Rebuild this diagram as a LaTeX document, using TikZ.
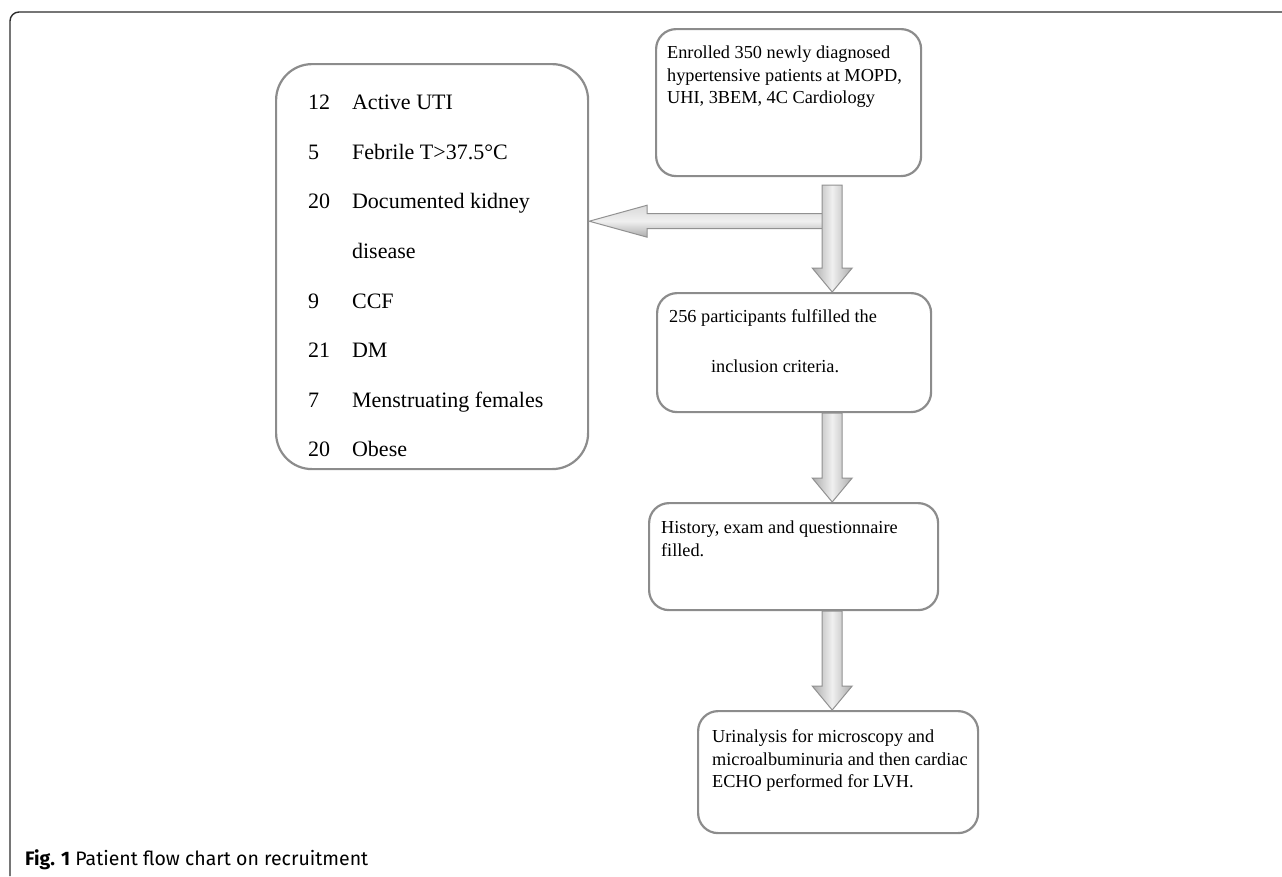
\documentclass[tikz,border=0pt]{standalone}
\usepackage{fontspec}
\setmainfont{Liberation Serif}
\newfontfamily\capfont{Fira Sans}
\usetikzlibrary{calc}

\definecolor{boxgray}{RGB}{140,140,140}
\definecolor{framegray}{RGB}{45,45,45}
\definecolor{arrowedge}{RGB}{145,145,145}

% text block of a box: width, height, top gap, left gap, lines
\newcommand{\boxtext}[5]{\begin{minipage}[t][#2][t]{#1}\raggedright\leftskip=#4\relax
  \vspace*{#3}#5\end{minipage}}

% block arrows
\newcommand{\downblock}[2]{%
  \path[blockarrow] let \p1=(#1), \p2=(#2) in
    (\x1-10pt,\y1) -- (\x1+10pt,\y1) -- (\x1+10pt,\y2+24pt) -- (\x1+20pt,\y2+24pt)
    -- (\x1,\y2) -- (\x1-20pt,\y2+24pt) -- (\x1-10pt,\y2+24pt) -- cycle;}
\newcommand{\sideblock}[2]{%
  \path[sidearrow] let \p1=(#1), \p2=(#2) in
    (\x1,\y1+7.5pt) -- (\x2+58pt,\y1+7.5pt) -- (\x2+58pt,\y1+16pt) -- (\x2,\y1)
    -- (\x2+58pt,\y1-16pt) -- (\x2+58pt,\y1-7.5pt) -- (\x1,\y1-7.5pt) -- cycle;}

\begin{document}
\begin{tikzpicture}[x=1pt,y=-1pt,
  flowbox/.style={draw=boxgray, line width=2.2pt, rounded corners=20pt, inner sep=0pt,
    anchor=north west, font=\fontsize{18.3}{22.5}\selectfont},
  blockarrow/.style={draw=arrowedge, line width=1pt, left color=gray!65,
    right color=gray!65, middle color=gray!12},
  sidearrow/.style={draw=arrowedge, line width=1pt, top color=gray!30,
    bottom color=gray!65, middle color=gray!12}]
\useasboundingbox (0,0) rectangle (1282,876);

\draw[framegray, line width=1.4pt, rounded corners=9pt] (10,876) -- (10,12) -- (1290,12);

\node[flowbox] (enroll) at (655,28)
  {\boxtext{265pt}{147pt}{17pt}{11pt}{Enrolled 350 newly diagnosed\\
   hypertensive patients at MOPD,\\ UHI, 3BEM, 4C Cardiology}};

\node[flowbox, rounded corners=36pt, font=\fontsize{22}{49.6}\selectfont] (exclude) at (275,63)
  {\boxtext{312pt}{405pt}{31pt}{32pt}{%
   \makebox[44pt][l]{12}Active UTI\\
   \makebox[44pt][l]{5}Febrile T>37.5°C\\
   \makebox[44pt][l]{20}Documented kidney\\
   \makebox[44pt][l]{}disease\\
   \makebox[44pt][l]{9}CCF\\
   \makebox[44pt][l]{21}DM\\
   \makebox[44pt][l]{7}Menstruating females\\
   \makebox[44pt][l]{20}Obese}};

\node[flowbox, font=\fontsize{18.3}{50}\selectfont] (include) at (656,292)
  {\boxtext{274pt}{119pt}{17pt}{12pt}{256 participants fulfilled the\\
   \hspace*{42pt}inclusion criteria.}};

\node[flowbox] (history) at (648,502)
  {\boxtext{289pt}{107pt}{18pt}{12pt}{History, exam and questionnaire\\ filled.}};

\node[flowbox] (urine) at (697,710)
  {\boxtext{280pt}{122pt}{19pt}{14pt}{Urinalysis for microscopy and\\
   microalbuminuria and then cardiac\\ ECHO performed for LVH.}};

\coordinate (split) at ($(enroll.south east)+(-90,8)$);
\coordinate (branch) at ($(split)+(-8,36)$);

\sideblock{branch}{exclude.east}
\downblock{split}{split |- include.north}
\downblock{include.south -| split}{history.north -| split}
\downblock{history.south -| split}{urine.north -| split}

\node[anchor=base west, inner sep=0pt, font=\capfont\fontsize{19.5}{22}\selectfont] (caption)
  at (25,865) {\textbf{Fig. 1} Patient flow chart on recruitment};
\end{tikzpicture}
\end{document}
